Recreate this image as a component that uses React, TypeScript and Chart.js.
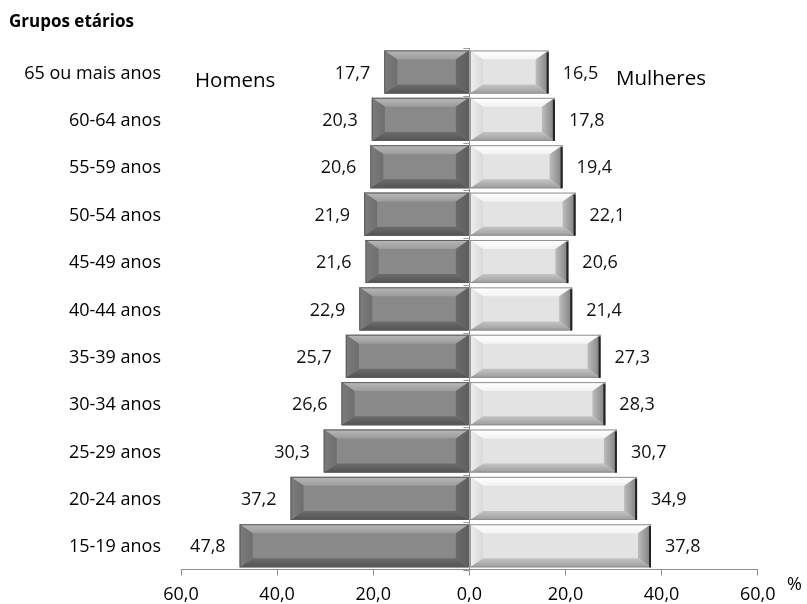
import React, { useEffect, useRef } from "react";
import { Chart, registerables } from "chart.js";

Chart.register(...registerables);

const categories = [
  "65 ou mais anos",
  "60-64 anos",
  "55-59 anos",
  "50-54 anos",
  "45-49 anos",
  "40-44 anos",
  "35-39 anos",
  "30-34 anos",
  "25-29 anos",
  "20-24 anos",
  "15-19 anos",
];
const homens = [17.7, 20.3, 20.6, 21.9, 21.6, 22.9, 25.7, 26.6, 30.3, 37.2, 47.8];
const mulheres = [16.5, 17.8, 19.4, 22.1, 20.6, 21.4, 27.3, 28.3, 30.7, 34.9, 37.8];
const axisTicks = [-60, -40, -20, 0, 20, 40, 60];

const FONT = "'Open Sans', Lato, sans-serif";
const fmt = (v: number) => Math.abs(v).toFixed(1).replace(".", ",");

type BevelStyle = {
  face: string;
  top: [string, string];
  bottom: [string, string];
  left: [string, string];
  right: [string, string];
  outline: string;
  edgeRight?: string;
};

const BEVEL: BevelStyle[] = [
  {
    face: "#898989",
    top: ["#b9b9b9", "#9b9b9b"],
    bottom: ["#6c6c6c", "#525252"],
    left: ["#7c7c7c", "#6e6e6e"],
    right: ["#6a6a6a", "#5e5e5e"],
    outline: "#5c5c5c",
  },
  {
    face: "#e3e3e3",
    top: ["#ffffff", "#f3f3f3"],
    bottom: ["#c4c4c4", "#9c9c9c"],
    left: ["#efefef", "#d9d9d9"],
    right: ["#bdbdbd", "#7e7e7e"],
    outline: "#8e8e8e",
    edgeRight: "#222222",
  },
];

const bevelPlugin = {
  id: "bevel",
  afterDatasetsDraw(chart: any) {
    const ctx = chart.ctx as CanvasRenderingContext2D;
    chart.data.datasets.forEach((_ds: any, di: number) => {
      const meta = chart.getDatasetMeta(di);
      const st = BEVEL[di];
      meta.data.forEach((el: any) => {
        const { x, y, base, height } = el.getProps(["x", "y", "base", "height"], true);
        const L = Math.min(x, base);
        const R = Math.max(x, base);
        const T = y - height / 2;
        const B = y + height / 2;
        const bx = Math.min(13, (R - L) / 2);
        const by = Math.min(9, (B - T) / 2);
        ctx.save();
        let g = ctx.createLinearGradient(0, T, 0, T + by);
        g.addColorStop(0, st.top[0]);
        g.addColorStop(1, st.top[1]);
        ctx.fillStyle = g;
        ctx.beginPath();
        ctx.moveTo(L, T);
        ctx.lineTo(R, T);
        ctx.lineTo(R - bx, T + by);
        ctx.lineTo(L + bx, T + by);
        ctx.closePath();
        ctx.fill();
        g = ctx.createLinearGradient(0, B - by, 0, B);
        g.addColorStop(0, st.bottom[0]);
        g.addColorStop(1, st.bottom[1]);
        ctx.fillStyle = g;
        ctx.beginPath();
        ctx.moveTo(L, B);
        ctx.lineTo(R, B);
        ctx.lineTo(R - bx, B - by);
        ctx.lineTo(L + bx, B - by);
        ctx.closePath();
        ctx.fill();
        g = ctx.createLinearGradient(L, 0, L + bx, 0);
        g.addColorStop(0, st.left[0]);
        g.addColorStop(1, st.left[1]);
        ctx.fillStyle = g;
        ctx.beginPath();
        ctx.moveTo(L, T);
        ctx.lineTo(L + bx, T + by);
        ctx.lineTo(L + bx, B - by);
        ctx.lineTo(L, B);
        ctx.closePath();
        ctx.fill();
        g = ctx.createLinearGradient(R - bx, 0, R, 0);
        g.addColorStop(0, st.right[0]);
        g.addColorStop(1, st.right[1]);
        ctx.fillStyle = g;
        ctx.beginPath();
        ctx.moveTo(R, T);
        ctx.lineTo(R - bx, T + by);
        ctx.lineTo(R - bx, B - by);
        ctx.lineTo(R, B);
        ctx.closePath();
        ctx.fill();
        ctx.strokeStyle = st.outline;
        ctx.lineWidth = 1;
        ctx.strokeRect(L + 0.5, T + 0.5, R - L - 1, B - T - 1);
        if (st.edgeRight) {
          ctx.strokeStyle = st.edgeRight;
          ctx.lineWidth = 2;
          ctx.beginPath();
          ctx.moveTo(R - 1, T + 2);
          ctx.lineTo(R - 1, B);
          ctx.stroke();
        }
        ctx.restore();
      });
    });
  },
};

const labelsPlugin = {
  id: "valueLabels",
  afterDraw(chart: any) {
    const ctx = chart.ctx as CanvasRenderingContext2D;
    ctx.save();
    ctx.font = `18px ${FONT}`;
    ctx.fillStyle = "#111111";
    ctx.textBaseline = "middle";
    chart.data.datasets.forEach((ds: any, di: number) => {
      const meta = chart.getDatasetMeta(di);
      meta.data.forEach((el: any, i: number) => {
        const { x, y } = el.getProps(["x", "y"], true);
        const v = ds.data[i] as number;
        if (v < 0) {
          ctx.textAlign = "right";
          ctx.fillText(fmt(v), x - 14, y + 1.5);
        } else {
          ctx.textAlign = "left";
          ctx.fillText(fmt(v), x + 14, y + 1.5);
        }
      });
    });
    const area = chart.chartArea;
    const x0 = chart.scales.x.getPixelForValue(0);
    const n = categories.length;
    const step = (area.bottom - area.top) / n;
    ctx.strokeStyle = "#9a9a9a";
    ctx.lineWidth = 1;
    for (let i = 0; i <= n; i++) {
      const yy = Math.round(area.top + i * step) + 0.5;
      ctx.beginPath();
      ctx.moveTo(x0 - 6, yy);
      ctx.lineTo(x0, yy);
      ctx.stroke();
    }
    ctx.textBaseline = "alphabetic";
    ctx.textAlign = "left";
    ctx.fillStyle = "#000000";
    ctx.font = `bold 17px ${FONT}`;
    ctx.fillText("Grupos etários", 9, 27);
    ctx.font = `20.5px ${FONT}`;
    ctx.fillText("Homens", 195, 87);
    ctx.fillText("Mulheres", 616, 85);
    ctx.font = `18px ${FONT}`;
    ctx.fillText("%", 787, 590);
    ctx.restore();
  },
};

export default function App() {
  const ref = useRef<HTMLCanvasElement | null>(null);
  useEffect(() => {
    if (!ref.current) return;
    const chart = new Chart(ref.current, {
      type: "bar",
      data: {
        labels: categories,
        datasets: [
          {
            label: "Homens",
            data: homens.map((v) => -v),
            backgroundColor: BEVEL[0].face,
            borderWidth: 0,
            barPercentage: 0.91,
            categoryPercentage: 1,
          },
          {
            label: "Mulheres",
            data: mulheres,
            backgroundColor: BEVEL[1].face,
            borderWidth: 0,
            barPercentage: 0.91,
            categoryPercentage: 1,
          },
        ],
      },
      options: {
        indexAxis: "y",
        responsive: false,
        animation: false,
        layout: { padding: { top: 48.3, right: 49.3, left: 0, bottom: 0 } },
        plugins: {
          legend: { display: false },
          tooltip: { enabled: false },
          title: { display: false },
        },
        scales: {
          x: {
            type: "linear",
            min: -60,
            max: 60,
            stacked: true,
            afterBuildTicks: (axis: any) => {
              axis.ticks = axisTicks.map((v) => ({ value: v }));
            },
            afterFit: (s: any) => {
              s.height = 34.5;
            },
            ticks: {
              callback: (v: any) => fmt(Number(v)),
              color: "#000000",
              font: { family: FONT, size: 18 },
              padding: 9,
              maxRotation: 0,
              autoSkip: false,
            },
            grid: {
              color: (c: any) => (c.tick && c.tick.value === 0 ? "#8c8c8c" : "rgba(0,0,0,0)"),
              tickColor: "#8c8c8c",
              tickLength: 6,
              drawOnChartArea: true,
              lineWidth: 1,
            },
            border: { display: true, color: "#8c8c8c", width: 1 },
          },
          y: {
            type: "category",
            stacked: true,
            afterFit: (s: any) => {
              s.width = 181;
            },
            ticks: {
              color: "#000000",
              font: { family: FONT, size: 18 },
              padding: 20,
              labelOffset: 1.5,
              autoSkip: false,
            },
            grid: { display: false, drawTicks: false },
            border: { display: false },
          },
        },
      },
      plugins: [bevelPlugin, labelsPlugin],
    } as any);
    return () => chart.destroy();
  }, []);
  return (
    <div style={{ position: "absolute", left: 0, top: 0, width: 807, height: 604, background: "#ffffff" }}>
      <canvas ref={ref} width={807} height={604} style={{ display: "block" }} />
    </div>
  );
}
